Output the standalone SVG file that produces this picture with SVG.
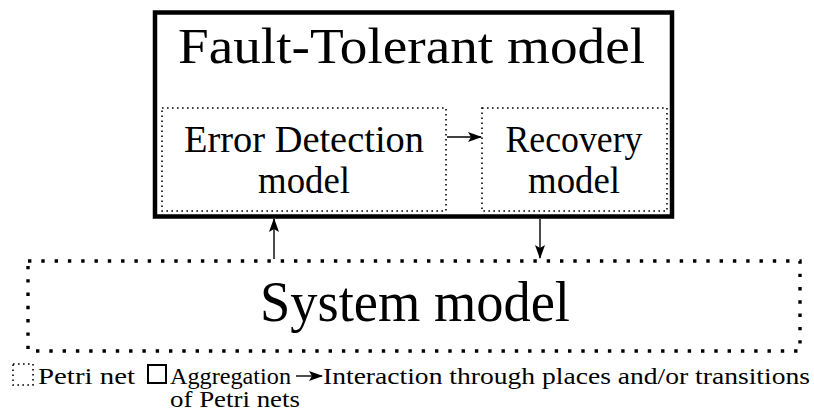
<svg xmlns="http://www.w3.org/2000/svg" width="814" height="413" viewBox="0 0 814 413" font-family="'Liberation Serif', 'DejaVu Serif', serif">
<style>
.agg{fill:none;stroke:#000;stroke-width:4.5}
.pn{fill:none;stroke:#000;stroke-width:1.6;stroke-dasharray:1.6 3.4}
.pnbig{fill:none;stroke:#000;stroke-width:3.4;stroke-dasharray:3.4 9.9}
.conn{fill:none;stroke:#000;stroke-width:1.4;marker-end:url(#ah)}
.t1{font-size:51px}
.t2{font-size:37px}
.t3{font-size:56px}
.lg{font-size:23px}
</style>
<defs>
<marker id="ah" viewBox="0 0 14 10" refX="13" refY="5" markerWidth="14" markerHeight="10" markerUnits="userSpaceOnUse" orient="auto">
<path d="M0,0 L14,5 L0,10 L3,5 Z" fill="#000"/>
</marker>
</defs>
<rect width="814" height="413" fill="#fff"/>
<g id="fault-tolerant">
<rect class="agg" x="155" y="12.5" width="517" height="204"/>
<text class="t1" x="178" y="63" textLength="467" lengthAdjust="spacingAndGlyphs">Fault-Tolerant model</text>
</g>
<g id="error-detection">
<rect class="pn" x="162" y="108" width="284" height="103"/>
<text class="t2" x="304" y="152" text-anchor="middle" textLength="240" lengthAdjust="spacingAndGlyphs">Error Detection</text>
<text class="t2" x="304" y="193" text-anchor="middle" textLength="92" lengthAdjust="spacingAndGlyphs">model</text>
</g>
<g id="recovery">
<rect class="pn" x="482" y="108" width="185" height="103"/>
<text class="t2" x="574" y="152" text-anchor="middle" textLength="137" lengthAdjust="spacingAndGlyphs">Recovery</text>
<text class="t2" x="574" y="193" text-anchor="middle" textLength="92" lengthAdjust="spacingAndGlyphs">model</text>
</g>
<g id="system">
<rect class="pnbig" x="28" y="261" width="772" height="90"/>
<text class="t3" x="415" y="321" text-anchor="middle" textLength="310" lengthAdjust="spacingAndGlyphs">System model</text>
</g>
<g id="connectors">
<line class="conn" x1="447" y1="137" x2="481" y2="137"/>
<line class="conn" x1="274" y1="259" x2="274" y2="219"/>
<line class="conn" x1="540" y1="219" x2="540" y2="258"/>
</g>
<g id="legend">
<rect class="pn" x="13" y="364" width="20" height="21"/>
<text class="lg" x="38" y="384" textLength="97" lengthAdjust="spacingAndGlyphs">Petri net</text>
<rect x="148" y="365" width="18" height="18" fill="none" stroke="#000" stroke-width="2"/>
<text class="lg" x="170" y="384" textLength="121" lengthAdjust="spacingAndGlyphs">Aggregation</text>
<text class="lg" x="170" y="407" textLength="130" lengthAdjust="spacingAndGlyphs">of Petri nets</text>
<line class="conn" x1="296" y1="376" x2="322" y2="376"/>
<text class="lg" x="323" y="384" textLength="487" lengthAdjust="spacingAndGlyphs">Interaction through places and/or transitions</text>
</g>
</svg>
